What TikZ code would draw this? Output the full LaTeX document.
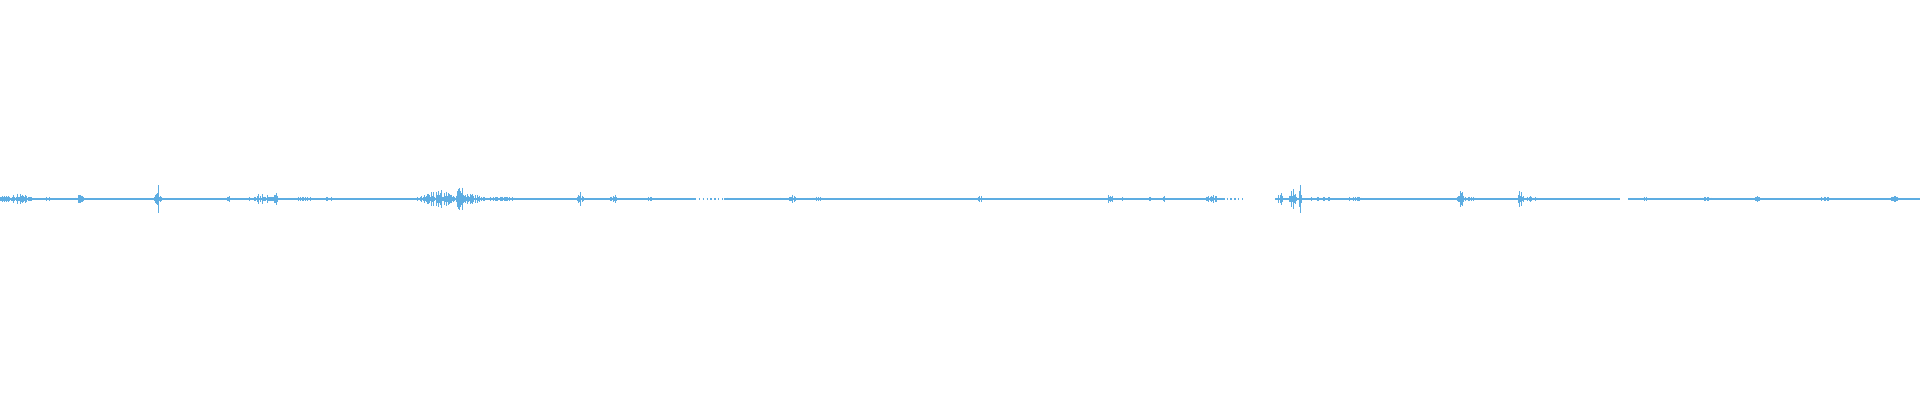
\documentclass[tikz,border=0pt]{standalone}
\definecolor{wave}{RGB}{93,173,226}
\tikzset{every picture/.style={line width=0.75pt}}
\tikzset{tick/.style={draw=wave,line width=0.6pt}}
\begin{document}
\begin{tikzpicture}[x=0.75pt,y=0.75pt,yscale=-1,xscale=1]
    \useasboundingbox (0,0) rectangle (1920,400);
    \pgfmathsetseed{7}
    %Baseline
    \draw[wave,line width=0.9pt] (0,199) -- (695,199) ;
    \draw[wave,line width=0.9pt,dotted] (695,199) -- (730,199) ;
    \draw[wave,line width=0.9pt] (730,199) -- (1215,199) ;
    \draw[wave,line width=0.9pt,dotted] (1215,199) -- (1245,199) ;
    \draw[wave,line width=0.9pt] (1275,199) -- (1620,199) ;
    \draw[wave,line width=0.9pt] (1628,199) -- (1920,199) ;
    %Bursts: center/halfwidth/amplitude
    \foreach \c/\w/\a in {15/20/5,48/6/2,80/6/4,158/4/11,230/10/2,262/20/4,275/3/7,300/20/2,
        330/10/2,440/25/7,460/5/13,470/20/4,500/25/2,580/4/6,613/4/6,650/6/2,730/6/2,
        780/15/1.5,792/4/4,815/15/2,890/10/1,980/6/3,1110/6/4,1125/8/2,1150/3/2,1163/4/3,
        1212/12/3,1280/4/5,1292/5/8,1300/2/16,1320/20/2,1355/15/2,1460/5/7,1470/15/2,
        1520/4/7,1530/15/2,1645/4/2,1705/10/2,1757/5/3,1790/10/1,1825/10/2,1895/5/5}{
      \foreach \i in {-\w,...,\w}{
        \pgfmathsetmacro\h{max(0.8,1.3*\a*exp(-2*(\i/\w)^2)*(0.15+0.85*rnd))}
        \draw[tick] (\c+\i,199-\h) -- (\c+\i,199+\h) ;
      }
    }
\end{tikzpicture}
\end{document}
